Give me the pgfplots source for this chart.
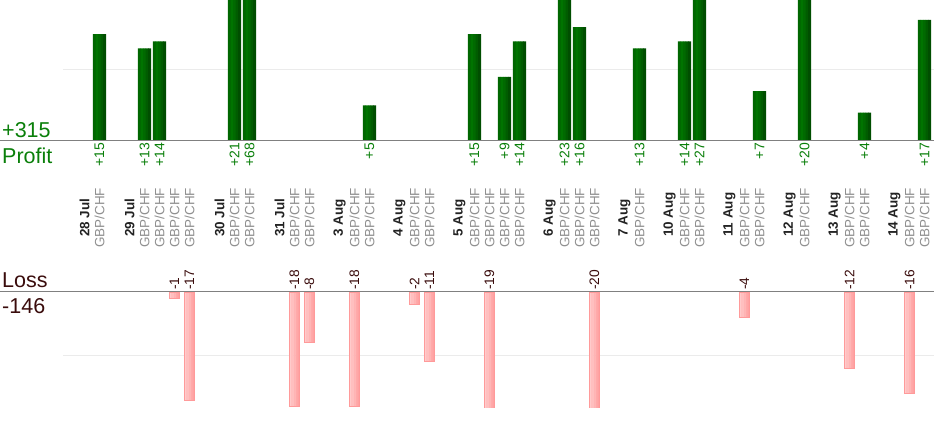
\documentclass[border=0pt]{standalone}
\usepackage{fontspec}
\setmainfont{Liberation Sans}
\usepackage{pgfplots}
\usepackage{pgfplotstable}
\pgfplotsset{compat=1.18}
\definecolor{gS1}{HTML}{006600}
\definecolor{gS2}{HTML}{007400}
\definecolor{gS3}{HTML}{006A00}
\definecolor{gS4}{HTML}{005C00}
\definecolor{gS5}{HTML}{004E00}
\definecolor{gTxt}{HTML}{0A7F0A}
\definecolor{pS1}{HTML}{FFCBCB}
\definecolor{pS2}{HTML}{FFBFBF}
\definecolor{pS3}{HTML}{FFB4B4}
\definecolor{pS4}{HTML}{FFAAAA}
\definecolor{pS5}{HTML}{FFA2A2}
\definecolor{pBd}{HTML}{FF9A9A}
\definecolor{lTxt}{HTML}{3A0C0C}
\definecolor{dTxt}{HTML}{222222}
\definecolor{sTxt}{HTML}{909090}
\definecolor{gridc}{HTML}{EBEBEB}
\definecolor{basec}{HTML}{808080}

% profit trades: slot, value
\pgfplotstableread{
x y
1 15
4 13
5 14
10 21
11 68
19 5
26 15
28 9
29 14
32 23
33 16
37 13
40 14
41 27
45 7
48 20
52 4
56 17
}\profit
% loss trades: slot, value
\pgfplotstableread{
x y
6 -1
7 -17
14 -18
15 -8
18 -18
22 -2
23 -11
27 -19
34 -20
44 -4
51 -12
55 -16
}\loss
% label tables: slot, vertical position (bp from bottom), text
\pgfplotstableread[col sep=comma]{
x,y,lab
0,183,28 Jul
3,183,29 Jul
9,183,30 Jul
13,183,31 Jul
17,183,3 Aug
21,183,4 Aug
25,183,5 Aug
31,183,6 Aug
36,183,7 Aug
39,183,10 Aug
43,183,11 Aug
47,183,12 Aug
50,183,13 Aug
54,183,14 Aug
}\dates
\pgfplotstableread[col sep=comma]{
x,y,lab
1,277,+15
4,277,+13
5,277,+14
10,277,+21
11,277,+68
19,277,+5
26,277,+15
28,277,+9
29,277,+14
32,277,+23
33,277,+16
37,277,+13
40,277,+14
41,277,+27
45,277,+7
48,277,+20
52,277,+4
56,277,+17
}\plab
\pgfplotstableread[col sep=comma]{
x,y,lab
6,130,-1
7,130,-17
14,130,-18
15,130,-8
18,130,-18
22,130,-2
23,130,-11
27,130,-19
34,130,-20
44,130,-4
51,130,-12
55,130,-16
}\llab
\pgfplotstableread{
x y
1 172
4 172
5 172
6 172
7 172
10 172
11 172
14 172
15 172
18 172
19 172
22 172
23 172
26 172
27 172
28 172
29 172
32 172
33 172
34 172
37 172
40 172
41 172
44 172
45 172
48 172
51 172
52 172
55 172
56 172
}\trades

\pgfplotsset{
  base/.style={
    scale only axis, width=871bp,
    xmin=-1.4333, xmax=56.6333,
    axis line style={draw=none},
    tick style={draw=none},
    xtick=\empty,
    yticklabels={},
    ymajorgrids, grid style={gridc, line width=1bp},
  },
  gstripe/.style={ybar, bar width=2.9bp, draw=none, fill=#1},
  pstripe/.style={ybar, bar width=2.4bp, draw=none, fill=#1},
}

\begin{document}
\begin{tikzpicture}[x=1bp,y=1bp]

% profit panel
\begin{axis}[base, at={(63bp,279bp)}, anchor=south west, height=141bp,
  ymin=0, ymax=19.8, ytick={10,19.8}]
\addplot[gstripe=gS1, bar shift=-5.1bp] table[x=x,y=y] {\profit};
\addplot[gstripe=gS2, bar shift=-2.55bp] table[x=x,y=y] {\profit};
\addplot[gstripe=gS3, bar shift=0bp] table[x=x,y=y] {\profit};
\addplot[gstripe=gS4, bar shift=2.55bp] table[x=x,y=y] {\profit};
\addplot[gstripe=gS5, bar shift=5.1bp] table[x=x,y=y] {\profit};
\end{axis}

% loss panel
\begin{axis}[base, at={(63bp,128bp)}, anchor=north west, height=115bp,
  ymin=-18.1, ymax=0, ytick={-10}]
\addplot[pstripe=pS1, bar shift=-4.2bp] table[x=x,y=y] {\loss};
\addplot[pstripe=pS2, bar shift=-2.1bp] table[x=x,y=y] {\loss};
\addplot[pstripe=pS3, bar shift=0bp] table[x=x,y=y] {\loss};
\addplot[pstripe=pS4, bar shift=2.1bp] table[x=x,y=y] {\loss};
\addplot[pstripe=pS5, bar shift=4.2bp] table[x=x,y=y] {\loss};
\addplot[ybar, bar width=10.5bp, bar shift=0bp, fill=none, draw=pBd, line width=0.8bp]
  table[x=x,y=y] {\loss};
\end{axis}

% label layer (y in picture bp, from the bottom)
\begin{axis}[scale only axis, width=871bp, height=151bp,
  at={(63bp,128bp)}, anchor=south west,
  xmin=-1.4333, xmax=56.6333, ymin=128, ymax=279,
  hide axis, clip=false]
\addplot[basec, line width=1bp] coordinates {(-5.6333,279.5) (56.6333,279.5)};
\addplot[basec, line width=1bp] coordinates {(-5.6333,128.5) (56.6333,128.5)};
\addplot[draw=none, mark=none, nodes near coords, point meta=explicit symbolic,
  nodes near coords style={rotate=90, anchor=west, inner sep=0pt,
    font=\fontsize{13.5}{14}\selectfont\bfseries, text=dTxt}]
  table[x=x, y=y, meta=lab] {\dates};
\addplot[draw=none, mark=none, nodes near coords={GBP/CHF},
  nodes near coords style={rotate=90, anchor=west, inner sep=0pt,
    font=\fontsize{13.5}{14}\selectfont, text=sTxt}]
  table[x=x, y=y] {\trades};
\addplot[draw=none, mark=none, nodes near coords, point meta=explicit symbolic,
  nodes near coords style={rotate=90, anchor=east, inner sep=0pt,
    font=\fontsize{14}{15}\selectfont, text=gTxt}]
  table[x=x, y=y, meta=lab] {\plab};
\addplot[draw=none, mark=none, nodes near coords, point meta=explicit symbolic,
  nodes near coords style={rotate=90, anchor=west, inner sep=0pt,
    font=\fontsize{13.8}{15}\selectfont, text=lTxt}]
  table[x=x, y=y, meta=lab] {\llab};
\end{axis}

\node[anchor=base west, inner sep=0pt, text=gTxt, font=\fontsize{21.6}{22}\selectfont] at (2,282.7) {+315};
\node[anchor=base west, inner sep=0pt, text=gTxt, font=\fontsize{21.6}{22}\selectfont] at (2,256.7) {Profit};
\node[anchor=base west, inner sep=0pt, text=lTxt, font=\fontsize{21.6}{22}\selectfont] at (2,132.7) {Loss};
\node[anchor=base west, inner sep=0pt, text=lTxt, font=\fontsize{21.6}{22}\selectfont] at (2,106.7) {-146};

\pgfresetboundingbox
\path (0,0) rectangle (934,420);
\end{tikzpicture}
\end{document}
